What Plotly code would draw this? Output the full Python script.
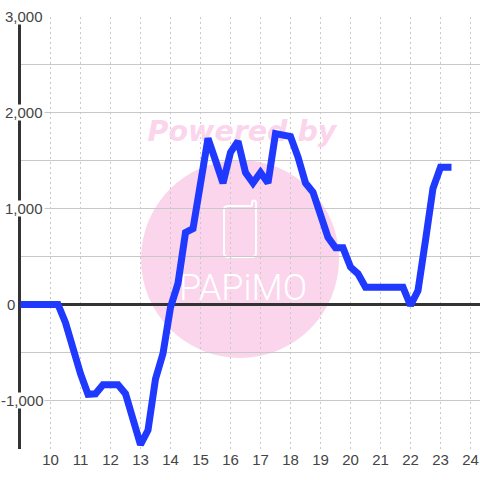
import plotly.graph_objects as go

hours = [9, 9.25, 9.5, 9.75, 10, 10.25, 10.5, 10.75, 11, 11.25, 11.5, 11.75, 12, 12.25, 12.5, 12.75,
         13, 13.25, 13.5, 13.75, 14, 14.25, 14.5, 14.75, 15, 15.25, 15.5, 15.75, 16, 16.25, 16.5, 16.75,
         17, 17.25, 17.5, 17.75, 18, 18.25, 18.5, 18.75, 19, 19.25, 19.5, 19.75, 20, 20.25, 20.5, 20.75,
         21, 21.25, 21.5, 21.75, 22, 22.25, 22.5, 22.75, 23, 23.25]
values = [0, 0, 0, 0, 0, 0, -190, -480, -720, -935, -930, -835, -835, -835, -930, -1175,
          -1460, -1310, -775, -510, -30, 220, 750, 790, 1240, 1730, 1500, 1265, 1585, 1700, 1375, 1265,
          1375, 1265, 1780, 1760, 1750, 1535, 1265, 1170, 960, 700, 590, 590, 390, 320, 180, 180,
          180, 180, 180, 180, -10, 145, 670, 1210, 1430, 1430]
x_ticks = list(range(10, 25))
y_tick_values = [3000, 2000, 1000, 0, -1000]
y_tick_labels = ["3,000", "2,000", "1,000", "0", "-1,000"]
label_right = [45, 45, 45, 17, 45]
label_width = [39, 39, 39, 9, 43]

W = H = 480
X0, X1 = 20.5, 480
Y0, Y1 = 448.5, 16.5
px = lambda x: x / W
py = lambda y: 1 - y / H
dx = lambda x: 9 + (x - X0) / 30
dy = lambda y: (304.5 - y) / 0.096

PINK = "#fbd5ec"
FONT = "Liberation Sans, Arial, sans-serif"

fig = go.Figure()
fig.add_trace(go.Scatter(x=[dx(242)], y=[dy(134)], mode="text", text=["Powered by"],
                         textfont=dict(family="DejaVu Sans", size=28.5, color=PINK, weight="bold", style="italic"),
                         hoverinfo="skip", cliponaxis=False))
fig.add_trace(go.Scatter(x=[dx(243)], y=[dy(291)], mode="text", text=["PAPiMO"],
                         textfont=dict(family="Roboto", size=36, color="white", weight=300),
                         hoverinfo="skip", cliponaxis=False))
fig.add_trace(go.Scatter(x=hours, y=values, mode="lines", line=dict(color="#1f39ff", width=7),
                         hoverinfo="skip", cliponaxis=False))

def P(x, y):
    return f"{px(x):.5f}", f"{py(y):.5f}"
path = "M {} {} ".format(*P(252, 206)) + "L {} {} ".format(*P(228, 206)) + \
       "Q {} {} {} {} ".format(*P(224, 206), *P(224, 210)) + "L {} {} ".format(*P(224, 253)) + \
       "Q {} {} {} {} ".format(*P(224, 257), *P(228, 257)) + "L {} {} ".format(*P(252, 257)) + \
       "Q {} {} {} {} ".format(*P(256, 257), *P(256, 253)) + "L {} {} ".format(*P(256, 203)) + \
       "Q {} {} {} {} ".format(*P(256, 200.5), *P(254, 200.5)) + "Q {} {} {} {}".format(*P(252, 200.5), *P(252, 203)) + \
       " L {} {}".format(*P(252, 206))

shapes = [
    dict(type="circle", xref="paper", yref="paper", layer="below", x0=px(141), x1=px(339), y0=py(358), y1=py(160),
         fillcolor=PINK, line=dict(width=0)),
    dict(type="path", xref="paper", yref="paper", layer="below", path=path, line=dict(color="white", width=2)),
]

annotations = [
    dict(xref="paper", yref="y", x=px(r), y=v, xanchor="right", yanchor="middle", text=t, showarrow=False,
         width=w, height=15, align="left", bgcolor="white", borderpad=0,
         font=dict(family=FONT, size=15, color="#444"))
    for v, t, r, w in zip(y_tick_values, y_tick_labels, label_right, label_width)
]

fig.update_layout(
    width=W, height=H, autosize=False, showlegend=False,
    margin=dict(l=0, r=0, t=0, b=0), paper_bgcolor="white", plot_bgcolor="rgba(0,0,0,0)",
    shapes=shapes, annotations=annotations,
    xaxis=dict(domain=[px(X0), 1], range=[9, dx(X1)], tickmode="array", tickvals=x_ticks,
               ticktext=[str(t) for t in x_ticks], showgrid=True, gridcolor="#c8c8c8", griddash="2px,3px", gridwidth=1,
               zeroline=False, showline=False, ticks="", automargin=False,
               tickfont=dict(family=FONT, size=15, color="#444")),
    yaxis=dict(domain=[py(Y0), py(Y1)], range=[-1500, 3000], tickmode="linear", tick0=-1500, dtick=500,
               showticklabels=False, showgrid=True, gridcolor="#c8c8c8", gridwidth=1, ticks="",
               zeroline=True, zerolinecolor="#333", zerolinewidth=3,
               showline=True, linecolor="#333", linewidth=3, layer="below traces", automargin=False),
)

post = """
document.documentElement.style.margin='0';
document.body.style.margin='0';
document.body.style.overflow='hidden';
document.querySelectorAll('.js-line').forEach(function(p){p.style.strokeLinecap='square';});
"""
fig.write_html("out.html", post_script=post, config=dict(displayModeBar=False))
